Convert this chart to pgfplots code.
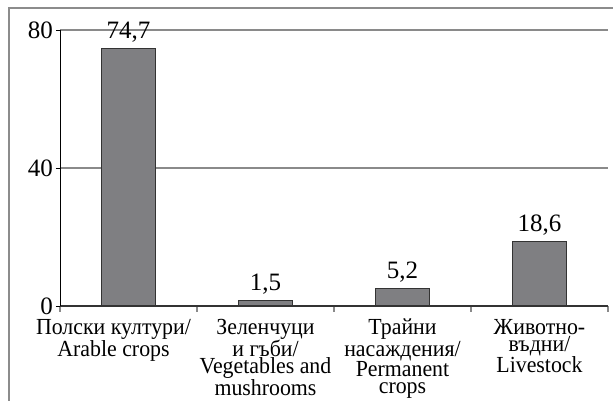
\documentclass[border=0pt]{standalone}
\usepackage{fontspec}
\setmainfont{Liberation Serif}
\newfontfamily\labelfont{Liberation Serif}[FakeStretch=0.95]
\usepackage{pgfplots}
\pgfplotsset{compat=1.18}
\definecolor{BarGray}{HTML}{7F7F82}
\definecolor{BarEdge}{HTML}{333333}
\definecolor{GridGray}{HTML}{8A8A8A}
\definecolor{FrameGray}{HTML}{8C8C8C}

\begin{document}
\begin{tikzpicture}
\begin{axis}[
  scale only axis,
  width=548pt, height=276pt,
  at={(0pt,0pt)}, anchor=south west,
  xmin=-0.5, xmax=3.5, ymin=0, ymax=80,
  axis x line*=bottom, axis y line*=left,
  ytick={0,40,80},
  xtick={1,2,3},
  xticklabels={
    {Зеленчуци\\и гъби/\\Vegetables and\\mushrooms},
    {Трайни\\насаждения/\\Permanent\\crops},
    {Животно-\\въдни/\\Livestock}},
  extra x ticks={0},
  extra x tick labels={{Полски култури/\\Arable crops}},
  extra x tick style={xticklabel style={xshift=-15pt}},
  minor xtick={-0.5,0.5,1.5,2.5,3.5},
  tick align=outside,
  major x tick style={draw=none},
  minor x tick style={GridGray, line width=1.2pt},
  minor tick length=6pt,
  major tick length=4pt,
  ytick style={black, line width=0.8pt},
  x axis line style={BarEdge, line width=1.3pt},
  y axis line style={black, line width=1pt},
  ymajorgrids, grid style={GridGray, line width=1.2pt},
  xticklabel style={align=center, anchor=north, inner sep=0pt, yshift=-9pt,
    font=\labelfont\fontsize{23}{17}\selectfont},
  yticklabel style={font=\fontsize{25}{25}\selectfont, inner sep=1pt, xshift=-2pt},
  /pgf/number format/assume math mode=true,
  ybar, bar width=0.4,
  nodes near coords,
  nodes near coords style={font=\fontsize{25}{25}\selectfont, anchor=south,
    inner sep=1pt, yshift=4.5pt,
    /pgf/number format/.cd, use comma, fixed, fixed zerofill, precision=1,
    assume math mode=true},
]
\addplot[fill=BarGray, draw=BarEdge, line width=1pt] coordinates {
  (0,74.7) (1,1.5) (2,5.2) (3,18.6)};
\end{axis}
\draw[FrameGray, line width=1.5pt] (-51pt,-110pt) rectangle (570pt,298pt);
\pgfresetboundingbox
\useasboundingbox (-60pt,-95pt) rectangle (553pt,306pt);
\end{tikzpicture}
\end{document}
